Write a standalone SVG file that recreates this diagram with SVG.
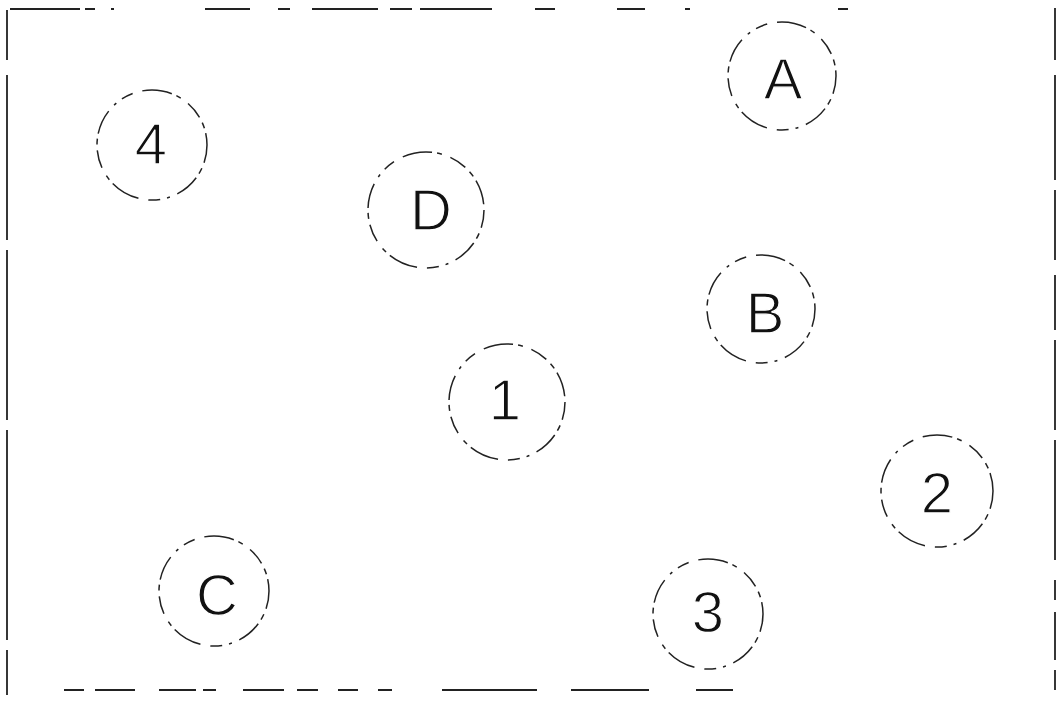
<svg xmlns="http://www.w3.org/2000/svg" width="1057" height="701" viewBox="0 0 1057 701">
<style>
.bg{fill:#fff}
.ring{fill:none;stroke:#222;stroke-width:1.5;stroke-dasharray:18 6 6 5 25 8 3 7 12 10 30 5 5 9}
.edge{fill:none;stroke:#222;stroke-width:1.8}
.lbl{font-family:"Liberation Sans",Arial,sans-serif;font-size:58px;fill:#111;stroke:#fff;stroke-width:1.3;text-anchor:middle}
</style>
<rect class="bg" x="0" y="0" width="1057" height="701"/>
<g id="border">
<path class="edge" d="M10 9H80M85 9H95M111 9H114M205 9H250M278 9H290M312 9H378M390 9H412M420 9H492M535 9H555M617 9H645M685 9H690M838 9H848"/>
<path class="edge" d="M64 690H84M95 690H135M159 690H196M203 690H216M243 690H284M297 690H318M338 690H358M378 690H392M442 690H537M571 690H649M696 690H733"/>
<path class="edge" d="M7 10V60M7 75V240M7 250V420M7 430V640M7 650V695"/>
<path class="edge" d="M1055 8V60M1055 75V180M1055 190V260M1055 275V330M1055 340V430M1055 440V560M1055 580V600M1055 612V660M1055 670V690"/>
</g>
<g id="node-A"><circle class="ring" cx="782" cy="76" r="54"/><text class="lbl" x="783" y="99">A</text></g>
<g id="node-4"><circle class="ring" cx="152" cy="145" r="55"/><text class="lbl" x="151" y="164">4</text></g>
<g id="node-D"><circle class="ring" cx="426" cy="210" r="58"/><text class="lbl" x="431" y="230">D</text></g>
<g id="node-B"><circle class="ring" cx="761" cy="309" r="54"/><text class="lbl" x="765" y="333">B</text></g>
<g id="node-1"><circle class="ring" cx="507" cy="402" r="58"/><text class="lbl" x="505" y="420">1</text></g>
<g id="node-2"><circle class="ring" cx="937" cy="491" r="56"/><text class="lbl" x="937" y="513">2</text></g>
<g id="node-C"><circle class="ring" cx="214" cy="591" r="55"/><text class="lbl" x="217" y="615">C</text></g>
<g id="node-3"><circle class="ring" cx="708" cy="614" r="55"/><text class="lbl" x="708" y="632">3</text></g>
<g id="connectors"></g>
</svg>
